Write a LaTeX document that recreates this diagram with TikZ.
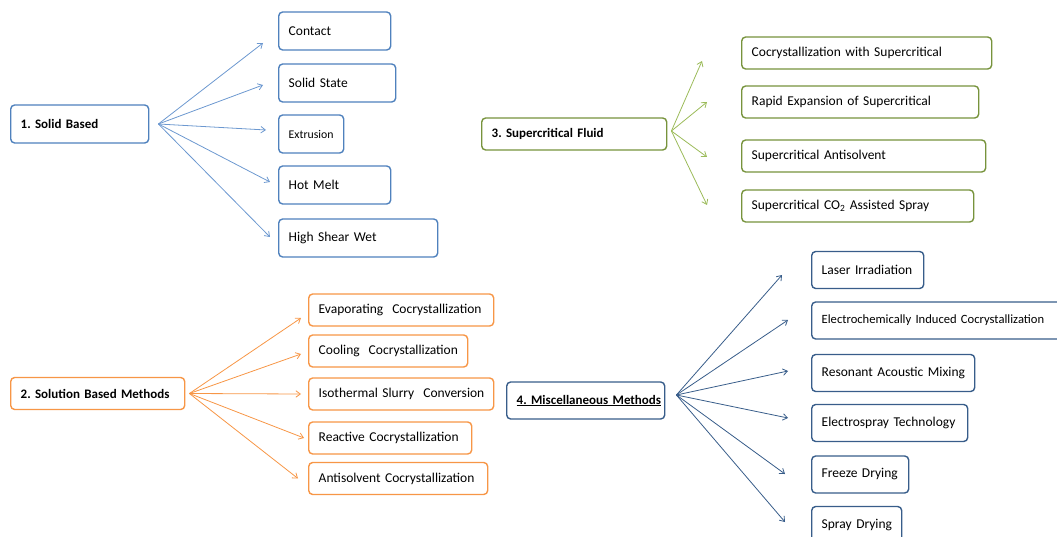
\documentclass[tikz,border=0pt]{standalone}
\usepackage{fontspec}
\setmainfont{Carlito}
\usetikzlibrary{arrows.meta}

\definecolor{solidblue}{HTML}{4F81BD}
\definecolor{solidarrow}{HTML}{6C98D0}
\definecolor{fluidgreen}{HTML}{77933C}
\definecolor{fluidarrow}{HTML}{9BBB59}
\definecolor{solnorange}{HTML}{F79646}
\definecolor{miscblue}{HTML}{385D8A}

\tikzset{
    box/.style={draw, fill=white, rounded corners=4pt, line width=1.4pt, anchor=west,
        inner xsep=10pt, inner ysep=0pt, align=left, font=\fontsize{13.5}{15}\selectfont\frenchspacing,
        execute at begin node={\hbox\bgroup}, execute at end node={\egroup}},
    head/.style={font=\fontsize{13}{15}\selectfont\bfseries\frenchspacing},
    fan/.style={line width=0.8pt, -{Straight Barb[length=4.5pt,width=6.5pt]}}
}

\begin{document}
\begin{tikzpicture}[x=1pt, y=-1pt]
    \useasboundingbox (0,0) rectangle (1057,537);
    \clip (0,0) rectangle (1057,537);

    % solid based
    \begin{scope}[every node/.style={box, draw=solidblue, minimum height=38pt}]
        \node[head, text width=118pt] (sb) at (10,124) {1. Solid Based};
        \node[text width=92pt] (contact) at (278,31) {Contact};
        \node[text width=97pt] (solid) at (278,83) {Solid State};
        \node[text width=45pt, font=\fontsize{11.8}{13}\selectfont] (extr) at (278,134) {Extrusion};
        \node[text width=92pt] (hot) at (278,185) {Hot Melt};
        \node[text width=139pt] (shear) at (278,238) {High Shear Wet};
    \end{scope}
    \coordinate (sbfan) at ([xshift=9pt]sb.east);
    \begin{scope}[every edge/.style={draw, solidarrow, fan}]
        \path (sbfan) edge ([shift={(-15,12)}]contact.west);
        \path (sbfan) edge ([shift={(-15,2)}]solid.west);
        \path (sbfan) edge ([shift={(-12,-4)}]extr.west);
        \path (sbfan) edge ([shift={(-8,-3)}]hot.west);
        \path (sbfan) edge ([shift={(-8,-1)}]shear.west);
    \end{scope}

    % supercritical fluid
    \begin{scope}[every node/.style={box, draw=fluidgreen, minimum height=32pt}]
        \node[head, text width=165pt] (sf) at (481,134) {3. Supercritical Fluid};
        \node[text width=230pt] (scc) at (741,53) {Cocrystallization with Supercritical};
        \node[text width=217pt] (rapid) at (741,102) {Rapid Expansion of Supercritical};
        \node[text width=224pt] (sas) at (741,156) {Supercritical Antisolvent};
        \node[text width=212pt] (spray) at (741,206) {Supercritical CO\textsubscript{2} Assisted Spray};
    \end{scope}
    \coordinate (sffan) at ([shift={(4,-3)}]sf.east);
    \begin{scope}[every edge/.style={draw, fluidarrow, fan}]
        \path (sffan) edge ([shift={(-39,8)}]scc.west);
        \path (sffan) edge ([shift={(-34,0)}]rapid.west);
        \path (sffan) edge ([shift={(-34,1)}]sas.west);
        \path (sffan) edge ([shift={(-34,-1)}]spray.west);
    \end{scope}

    % solution based
    \begin{scope}[every node/.style={box, draw=solnorange, minimum height=32pt}]
        \node[head, text width=154pt] (sbm) at (10,393.5) {2. Solution Based Methods};
        \node[text width=165pt] (evap) at (308,310) {Evaporating\ \ Cocrystallization};
        \node[text width=139pt] (cool) at (308,351) {Cooling\ \ Cocrystallization};
        \node[text width=165pt] (slurry) at (308,394) {Isothermal Slurry\ \ Conversion};
        \node[text width=143pt] (react) at (308,438) {Reactive Cocrystallization};
        \node[text width=159pt] (anti) at (308,478.5) {Antisolvent Cocrystallization};
    \end{scope}
    \coordinate (sbmfan) at ([xshift=4pt]sbm.east);
    \begin{scope}[every edge/.style={draw, solnorange, fan}]
        \path (sbmfan) edge ([shift={(-7,8)}]evap.west);
        \path (sbmfan) edge ([shift={(-7,3)}]cool.west);
        \path (sbmfan) edge ([shift={(-7,0)}]slurry.west);
        \path (sbmfan) edge ([shift={(-4,0)}]react.west);
        \path (sbmfan) edge ([shift={(-10,0)}]anti.west);
    \end{scope}

    % miscellaneous
    \begin{scope}[every node/.style={box, draw=miscblue, minimum height=37pt}]
        \node[head, text width=138pt] (mm) at (506,400.5) {\underline{4. Miscellaneous Methods}};
        \node[text width=92pt] (laser) at (811,270) {Laser Irradiation};
        \node[text width=260pt, font=\fontsize{12.6}{14}\selectfont] (echem) at (811,320.5) {Electrochemically Induced Cocrystallization};
        \node[text width=143pt] (ram) at (811,373) {Resonant Acoustic Mixing};
        \node[text width=136pt] (espray) at (811,423) {Electrospray Technology};
        \node[text width=77pt] (freeze) at (811,474.5) {Freeze Drying};
        \node[text width=70pt] (sdry) at (811,525) {Spray Drying};
    \end{scope}
    \coordinate (mmfan) at ([shift={(11,-5.5)}]mm.east);
    \begin{scope}[every edge/.style={draw, miscblue, fan}]
        \path (mmfan) edge ([shift={(-29,5)}]laser.west);
        \path (mmfan) edge ([shift={(-23,-0.5)}]echem.west);
        \path (mmfan) edge ([shift={(-23,-2)}]ram.west);
        \path (mmfan) edge ([shift={(-23,-5)}]espray.west);
        \path (mmfan) edge ([shift={(-26,-0.5)}]freeze.west);
        \path (mmfan) edge ([shift={(-26,-3)}]sdry.west);
    \end{scope}
\end{tikzpicture}
\end{document}
